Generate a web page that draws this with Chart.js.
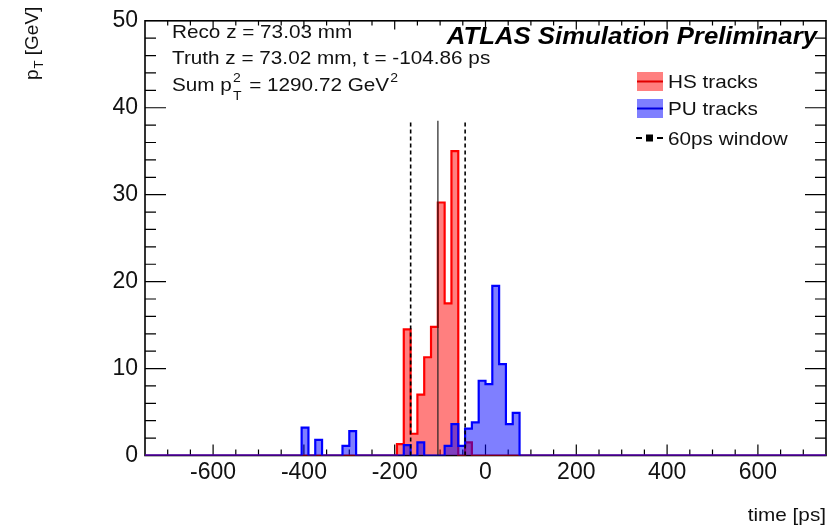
<!DOCTYPE html>
<html>
<head>
<meta charset="utf-8">
<title>ATLAS Simulation Preliminary - track time</title>
<script src="https://cdn.jsdelivr.net/npm/chart.js@4.4.1/dist/chart.umd.min.js"></script>
<style>
  html, body { margin: 0; padding: 0; background: #fff; }
  #chart { display: block; }
</style>
</head>
<body>
<canvas id="chart" width="838" height="530"></canvas>
<script>
// Histogram binning (ps)
const tMin = -750;
const tMax = 750;
const binWidth = 15;

// HS tracks: lower bin edge (ps) and summed pT (GeV)
const hsBinLow = [-195, -180, -165, -150, -135, -120, -105, -90, -75, -45];
const hsPt = [1.3, 14.5, 2.5, 7.0, 11.3, 14.8, 29.1, 17.5, 35.0, 1.5];

// PU tracks
const puBinLow = [-405, -375, -315, -300, -180, -150, -90, -75, -60, -45, -30, -15, 0, 15, 30, 45, 60];
const puPt = [3.2, 1.8, 1.1, 2.8, 1.2, 1.5, 1.1, 3.6, 1.1, 3.1, 3.8, 8.6, 8.2, 19.5, 10.5, 3.6, 4.9];

// Truth vertex time and the +-60 ps window
const truthTime = -104.86;
const windowHalf = 60;
const lineTop = 38.5;

// Axis ticks
const xMajorStep = 200;
const xMinorStep = 50;
const yMajorStep = 10;
const yMinorStep = 2;

const FONT = '"Liberation Sans", Arial, Helvetica, sans-serif';
const SX = 1.12; // the reference text is slightly wide

function histPoints(lows, vals) {
  const pts = [];
  const nBins = Math.round((tMax - tMin) / binWidth);
  for (let i = 0; i < nBins; i++) {
    const lo = tMin + i * binWidth;
    const k = lows.indexOf(lo);
    pts.push({ x: lo, y: k >= 0 ? vals[k] : 0 });
  }
  pts.push({ x: tMax, y: 0 });
  return pts;
}

function vLine(t) {
  return [{ x: t, y: 0 }, { x: t, y: lineTop }];
}

function wideText(ctx, text, x, y, size, opts) {
  opts = opts || {};
  ctx.save();
  ctx.font = (opts.style || '') + ' ' + size + 'px ' + FONT;
  ctx.fillStyle = opts.color || '#111';
  ctx.textAlign = 'left';
  ctx.textBaseline = 'alphabetic';
  const w = ctx.measureText(text).width * SX;
  const x0 = opts.align === 'right' ? x - w : x;
  ctx.translate(x0, y);
  ctx.scale(SX, 1);
  ctx.fillText(text, 0, 0);
  ctx.restore();
  return w;
}

// Frame and ROOT style inward ticks, under the histograms
const frameTicks = {
  id: 'frameTicks',
  beforeDatasetsDraw(chart) {
    const { ctx, chartArea: a, scales: { x, y } } = chart;
    ctx.save();
    ctx.strokeStyle = '#000';
    ctx.lineWidth = 1.2;
    ctx.beginPath();
    for (let v = tMin + xMinorStep; v < tMax; v += xMinorStep) {
      const px = x.getPixelForValue(v);
      const len = v % xMajorStep === 0 ? 11 : 6;
      ctx.moveTo(px, a.bottom); ctx.lineTo(px, a.bottom - len);
      ctx.moveTo(px, a.top); ctx.lineTo(px, a.top + len * 0.8);
    }
    for (let v = y.min + yMinorStep; v < y.max; v += yMinorStep) {
      const py = y.getPixelForValue(v);
      const len = v % yMajorStep === 0 ? 21 : 11;
      ctx.moveTo(a.left, py); ctx.lineTo(a.left + len, py);
      ctx.moveTo(a.right, py); ctx.lineTo(a.right - len, py);
    }
    ctx.stroke();
    ctx.lineWidth = 1.6;
    ctx.strokeRect(a.left, a.top, a.right - a.left, a.bottom - a.top);
    ctx.restore();
  }
};

// Labels, legend and axis titles
const overlay = {
  id: 'overlay',
  afterDraw(chart) {
    const ctx = chart.ctx;
    const a = chart.chartArea;

    wideText(ctx, 'ATLAS Simulation Preliminary', 817, 43.5, 23, { style: 'italic bold', align: 'right', color: '#000' });

    wideText(ctx, 'Reco z = 73.03 mm', 172, 38.3, 18.5);
    wideText(ctx, 'Truth z = 73.02 mm, t = -104.86 ps', 172, 64.3, 18.5);
    let cx = 172;
    cx += wideText(ctx, 'Sum p', cx, 90.7, 18.5);
    wideText(ctx, '2', cx + 1, 82, 12.5);
    const sw = wideText(ctx, 'T', cx + 1, 99.5, 12.5);
    cx += sw + 3;
    cx += wideText(ctx, ' = 1290.72 GeV', cx, 90.7, 18.5);
    wideText(ctx, '2', cx + 1, 82, 12.5);

    // legend
    const rows = [
      { label: 'HS tracks', fill: 'rgba(255,0,0,0.5)', line: '#e00000', y: 81.5 },
      { label: 'PU tracks', fill: 'rgba(0,0,255,0.5)', line: '#0000e0', y: 108.5 }
    ];
    ctx.save();
    rows.forEach(r => {
      ctx.fillStyle = r.fill;
      ctx.fillRect(637, r.y - 9.5, 26, 19);
      ctx.strokeStyle = r.line;
      ctx.lineWidth = 2;
      ctx.beginPath();
      ctx.moveTo(637, r.y); ctx.lineTo(663, r.y);
      ctx.stroke();
      wideText(ctx, r.label, 668, r.y + 6.6, 18.5);
    });
    const wy = 138;
    ctx.strokeStyle = '#000';
    ctx.lineWidth = 2;
    ctx.beginPath();
    ctx.moveTo(636, wy); ctx.lineTo(642, wy);
    ctx.moveTo(657, wy); ctx.lineTo(663, wy);
    ctx.stroke();
    ctx.fillStyle = '#000';
    ctx.fillRect(646, wy - 3.5, 7, 7);
    ctx.restore();
    wideText(ctx, '60ps window', 668, wy + 6.8, 18.5);

    // x title
    wideText(ctx, 'time [ps]', a.right, 521, 18.5, { align: 'right' });

    // y title, rotated, reading upwards
    ctx.save();
    ctx.translate(38, 80);
    ctx.rotate(-Math.PI / 2);
    ctx.fillStyle = '#111';
    ctx.textBaseline = 'alphabetic';
    ctx.font = '19px ' + FONT;
    ctx.fillText('p', 0, 0);
    let w = ctx.measureText('p').width;
    ctx.font = '13px ' + FONT;
    ctx.fillText('T', w + 1, 5);
    w += ctx.measureText('T').width + 1;
    ctx.font = '19px ' + FONT;
    ctx.fillText(' [GeV]', w, 0);
    ctx.restore();
  }
};

const tickFont = { family: FONT, size: 23 };

new Chart(document.getElementById('chart'), {
  type: 'line',
  data: {
    datasets: [
      {
        label: 'window low',
        data: vLine(truthTime - windowHalf),
        borderColor: '#000',
        borderWidth: 1.6,
        borderDash: [4, 3],
        pointRadius: 0,
        order: 0
      },
      {
        label: 'window high',
        data: vLine(truthTime + windowHalf),
        borderColor: '#000',
        borderWidth: 1.6,
        borderDash: [4, 3],
        pointRadius: 0,
        order: 0
      },
      {
        label: 'truth time',
        data: vLine(truthTime),
        borderColor: '#222',
        borderWidth: 1.2,
        pointRadius: 0,
        order: 0
      },
      {
        label: 'PU tracks',
        data: histPoints(puBinLow, puPt),
        stepped: true,
        borderColor: '#0000ff',
        backgroundColor: 'rgba(0,0,255,0.5)',
        borderWidth: 2.2,
        fill: 'origin',
        pointRadius: 0,
        order: 1
      },
      {
        label: 'HS tracks',
        data: histPoints(hsBinLow, hsPt),
        stepped: true,
        borderColor: '#ff0000',
        backgroundColor: 'rgba(255,0,0,0.5)',
        borderWidth: 2.2,
        fill: 'origin',
        pointRadius: 0,
        order: 2
      }
    ]
  },
  options: {
    responsive: false,
    animation: false,
    devicePixelRatio: 1,
    layout: { padding: { top: 13, right: 12, left: 0, bottom: 0 } },
    plugins: {
      legend: { display: false },
      tooltip: { enabled: false }
    },
    scales: {
      x: {
        type: 'linear',
        min: tMin,
        max: tMax,
        ticks: {
          stepSize: xMajorStep,
          includeBounds: false,
          autoSkip: false,
          maxRotation: 0,
          padding: 3,
          color: '#111',
          font: tickFont
        },
        grid: { display: false, drawTicks: false },
        border: { display: false },
        afterFit: s => { s.height = 74.5; }
      },
      y: {
        min: 0,
        max: 50,
        ticks: {
          stepSize: yMajorStep,
          padding: 7,
          color: '#111',
          font: tickFont
        },
        grid: { display: false, drawTicks: false },
        border: { display: false },
        afterFit: s => { s.width = 145; }
      }
    }
  },
  plugins: [frameTicks, overlay]
});
</script>
</body>
</html>
